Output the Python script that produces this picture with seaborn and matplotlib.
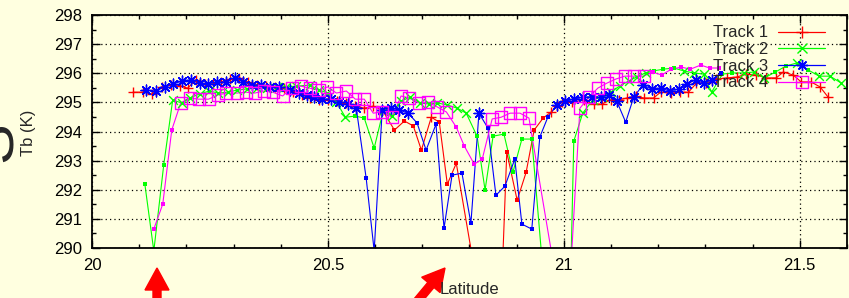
import pandas as pd
import matplotlib
matplotlib.use("Agg")
import matplotlib.pyplot as plt
from matplotlib.lines import Line2D
from matplotlib.patches import FancyArrow
from matplotlib.ticker import MultipleLocator
import seaborn as sns

# brightness temperature along four tracks (big marker flag: 1 = big, 0 = small dot)
t1_lat = [20.087, 20.108, 20.127, 20.148, 20.167, 20.186, 20.203, 20.220, 20.239, 20.256,
          20.273, 20.292, 20.311, 20.330, 20.349, 20.368, 20.387, 20.406, 20.425, 20.444,
          20.463, 20.482, 20.501, 20.520, 20.539, 20.558, 20.577, 20.596, 20.615, 20.641,
          20.662, 20.681, 20.698, 20.719, 20.736, 20.753, 20.772, 20.808, 20.840, 20.869,
          20.879, 20.901, 20.920, 20.937, 20.956, 20.973, 20.985, 20.996, 21.017, 21.042,
          21.063, 21.080, 21.099, 21.116, 21.133, 21.152, 21.169, 21.190, 21.205, 21.228,
          21.247, 21.264, 21.281, 21.302, 21.323, 21.345, 21.366, 21.387, 21.408, 21.429,
          21.450, 21.465, 21.486, 21.503, 21.524, 21.543, 21.560]
t1_tb = [295.35, 295.35, 295.29, 295.53, 295.59, 295.56, 295.49, 295.77, 295.63, 295.63,
         295.70, 295.80, 295.84, 295.70, 295.59, 295.56, 295.53, 295.49, 295.35, 295.25,
         295.15, 295.08, 295.08, 295.04, 294.98, 294.87, 294.80, 294.87, 294.74, 294.05,
         294.36, 294.19, 293.36, 294.49, 294.32, 292.19, 292.91, 289.5, 288.8, 289.0,
         293.29, 291.64, 292.60, 294.05, 294.46, 294.67, 294.87, 295.01, 295.01, 295.08,
         294.94, 294.94, 295.08, 295.08, 295.15, 295.22, 295.15, 295.15, 295.35, 295.32,
         295.35, 295.35, 295.66, 295.66, 295.80, 295.84, 295.87, 295.97, 295.94, 295.84,
         295.84, 296.04, 295.94, 295.70, 295.70, 295.53, 295.18]
t1_big = ("1111111111" "1111111111" "111111111" "0000" "1" "00000000000"
          "1111111111" "1111111111" "1111111111" "11")

t2_lat = [20.112, 20.131, 20.152, 20.171, 20.190, 20.207, 20.228, 20.249, 20.268, 20.288,
          20.307, 20.328, 20.349, 20.370, 20.391, 20.412, 20.433, 20.461, 20.482, 20.499,
          20.518, 20.537, 20.558, 20.577, 20.598, 20.617, 20.636, 20.655, 20.674, 20.696,
          20.715, 20.732, 20.753, 20.774, 20.793, 20.816, 20.833, 20.850, 20.873, 20.892,
          20.911, 20.932, 20.962, 21.013, 21.021, 21.040, 21.061, 21.080, 21.099, 21.118,
          21.137, 21.154, 21.173, 21.190, 21.211, 21.233, 21.254, 21.275, 21.296, 21.313,
          21.336, 21.357, 21.381, 21.402, 21.425, 21.448, 21.471, 21.493, 21.518, 21.541,
          21.564, 21.588]
t2_tb = [292.19, 289.9, 292.85, 295.08, 294.98, 295.15, 295.29, 295.39, 295.32, 295.35,
         295.42, 295.46, 295.49, 295.49, 295.53, 295.53, 295.56, 295.59, 295.42, 295.32,
         295.01, 294.49, 294.53, 294.46, 293.43, 294.70, 294.53, 295.04, 295.18, 294.98,
         294.94, 294.98, 294.91, 294.80, 294.63, 293.84, 291.99, 293.84, 293.91, 292.60,
         293.74, 293.74, 288.0, 288.0, 293.67, 294.63, 295.08, 295.18, 295.35, 295.56,
         295.73, 295.87, 296.01, 296.08, 296.14, 296.18, 296.08, 296.01, 295.97, 295.35,
         295.97, 296.01, 296.01, 296.04, 295.84, 296.04, 296.25, 296.35, 296.11, 295.90,
         295.90, 295.66]
t2_big = ("000" "1111111111" "111111111" "000" "1111111111" "0000000000"
          "11111111" "000" "1111" "00" "111" "00" "1" "0" "111")

t3_lat = [20.114, 20.135, 20.154, 20.171, 20.190, 20.209, 20.228, 20.245, 20.264, 20.283,
          20.302, 20.321, 20.340, 20.359, 20.378, 20.397, 20.419, 20.438, 20.455, 20.471,
          20.488, 20.507, 20.524, 20.543, 20.560, 20.581, 20.598, 20.615, 20.634, 20.651,
          20.670, 20.689, 20.708, 20.729, 20.746, 20.763, 20.784, 20.803, 20.820, 20.839,
          20.856, 20.875, 20.896, 20.911, 20.932, 20.949, 20.966, 20.985, 21.002, 21.021,
          21.040, 21.059, 21.078, 21.095, 21.112, 21.131, 21.148, 21.167, 21.186, 21.205,
          21.224, 21.243, 21.260, 21.279, 21.296, 21.313, 21.332]
t3_tb = [295.42, 295.39, 295.53, 295.63, 295.73, 295.77, 295.66, 295.63, 295.70, 295.70,
         295.84, 295.70, 295.59, 295.59, 295.53, 295.53, 295.42, 295.32, 295.25, 295.18,
         295.11, 295.11, 295.01, 294.94, 294.80, 292.40, 289.9, 294.74, 294.80, 294.74,
         294.63, 294.29, 293.36, 294.25, 290.68, 292.50, 292.57, 290.85, 294.63, 294.12,
         291.81, 292.12, 293.05, 290.82, 290.65, 293.81, 294.49, 294.91, 295.04, 295.11,
         295.18, 295.18, 295.18, 295.25, 295.04, 294.32, 295.18, 295.59, 295.46, 295.49,
         295.39, 295.46, 295.63, 295.77, 295.66, 295.77, 296.01]
t3_big = ("1111111111" "1111111111" "11111" "00" "1111" "0000000" "1" "00000000"
          "11111111" "0" "1111111111" "0")

t4_lat = [20.131, 20.150, 20.169, 20.188, 20.207, 20.226, 20.247, 20.266, 20.285, 20.307,
          20.326, 20.345, 20.364, 20.383, 20.404, 20.423, 20.442, 20.461, 20.480, 20.499,
          20.518, 20.539, 20.558, 20.577, 20.596, 20.615, 20.636, 20.655, 20.672, 20.693,
          20.712, 20.732, 20.751, 20.772, 20.789, 20.810, 20.827, 20.848, 20.867, 20.886,
          20.907, 20.926, 20.981, 21.015, 21.034, 21.053, 21.072, 21.091, 21.110, 21.129,
          21.148, 21.169, 21.188, 21.207, 21.228, 21.249, 21.268, 21.290, 21.309, 21.328]
t4_tb = [290.65, 291.51, 294.05, 294.98, 295.15, 295.11, 295.11, 295.25, 295.32, 295.32,
         295.35, 295.32, 295.39, 295.35, 295.22, 295.49, 295.56, 295.49, 295.42, 295.53,
         295.32, 295.39, 295.11, 295.11, 294.63, 294.67, 294.49, 295.22, 295.15, 294.98,
         295.01, 294.84, 294.67, 294.15, 293.50, 292.88, 293.05, 294.43, 294.49, 294.63,
         294.63, 294.46, 289.15, 289.4, 294.80, 295.18, 295.49, 295.66, 295.80, 295.90,
         295.90, 295.90, 296.04, 295.94, 296.14, 296.21, 296.14, 296.28, 296.18, 296.18]
t4_big = ("000" "1111111111" "1111111111" "1111111111" "0000" "11111" "00"
          "11111111" "00000000")

tracks = ["Track 1", "Track 2", "Track 3", "Track 4"]
colors = ["#ff0000", "#00ff00", "#0000ff", "#ff00ff"]
x_ticks = [20, 20.5, 21, 21.5]
y_ticks = [290, 291, 292, 293, 294, 295, 296, 297, 298]

series = [(t1_lat, t1_tb, t1_big), (t2_lat, t2_tb, t2_big),
          (t3_lat, t3_tb, t3_big), (t4_lat, t4_tb, t4_big)]
frames = []
for name, (lat, tb, big) in zip(tracks, series):
    assert len(lat) == len(tb) == len(big), name
    frames.append(pd.DataFrame({"lat": lat, "tb": tb, "big": [c == "1" for c in big],
                                "track": name}))
df = pd.concat(frames, ignore_index=True)

bg = "#ffffe0"
sns.set_style("ticks")
plt.rcParams["font.family"] = ["Liberation Sans", "DejaVu Sans"]

fig = plt.figure(figsize=(8.49, 2.98), dpi=100, facecolor=bg)
ax = fig.add_axes([92 / 849, 1 - 248 / 298, 755 / 849, 233 / 298])
ax.set_facecolor(bg)

palette = dict(zip(tracks, colors))
sns.lineplot(data=df, x="lat", y="tb", hue="track", palette=palette, sort=False,
             estimator=None, linewidth=0.8, legend=False, ax=ax)

big_style = {
    "Track 1": dict(marker="+", s=60, linewidth=1.0),
    "Track 2": dict(marker="x", s=40, linewidth=1.0),
    "Track 3": dict(marker=(8, 2, 0), s=60, linewidth=1.0),
    "Track 4": dict(marker="s", s=75, linewidth=1.0, facecolor="none"),
}
for name in tracks:
    c = palette[name]
    sub = df[df["track"] == name]
    small = sub[~sub["big"]]
    large = sub[sub["big"]]
    sns.scatterplot(x=small["lat"], y=small["tb"], marker="s", s=5, color=c,
                    edgecolor=c, linewidth=0, ax=ax, zorder=3)
    sns.scatterplot(x=large["lat"], y=large["tb"], color=c, edgecolor=c, ax=ax,
                    zorder=3, **big_style[name])

ax.set_xlim(20, 21.6)
ax.set_ylim(290, 298)
ax.set_xticks(x_ticks)
ax.set_xticklabels(["20", "20.5", "21", "21.5"])
ax.set_yticks(y_ticks)
ax.xaxis.set_minor_locator(MultipleLocator(0.1))
ax.yaxis.set_minor_locator(MultipleLocator(0.5))
ax.tick_params(which="both", direction="in", top=True, right=True, colors="black",
               labelsize=12, pad=7)
ax.tick_params(which="major", length=6, width=1)
ax.tick_params(which="minor", length=3, width=1)
for sp in ax.spines.values():
    sp.set_color("black")
    sp.set_linewidth(1.3)
ax.grid(which="major", linestyle=(0, (1, 2.5)), color="black", linewidth=0.9)
ax.set_xlabel("")
ax.set_ylabel("")

handles = [
    Line2D([], [], color=colors[0], lw=0.9, marker="+", ms=8, mew=1.0),
    Line2D([], [], color=colors[1], lw=0.9, marker="x", ms=6.5, mew=1.0),
    Line2D([], [], color=colors[2], lw=0.9, marker=(8, 2, 0), ms=8, mew=1.0),
    Line2D([], [], color=colors[3], lw=0.9, marker="s", ms=8.5, mew=1.0, mfc="none"),
]
ax.legend(handles, tracks, loc="upper right", bbox_to_anchor=(0.971, 0.955),
          frameon=False, markerfirst=False, fontsize=12, handlelength=2.8,
          handletextpad=0.6, labelspacing=0.1, borderpad=0, borderaxespad=0)

# axis titles, partly cut off at the image border
fig.text(25 / 849, 1 - 142 / 298, "S", rotation=90, fontsize=44, ha="right",
         va="center")
fig.text(28 / 849, 1 - 133 / 298, "Tb (K)", rotation=90, fontsize=12, ha="center",
         va="center")
fig.text(469 / 849, 1 - 290 / 298, "Latitude", fontsize=12, ha="center", va="center")

# red arrows below the axis
fig.add_artist(FancyArrow(1.57, -0.12, 0, 0.42, width=0.08, head_width=0.24,
                          head_length=0.22, length_includes_head=True, color="red",
                          transform=fig.dpi_scale_trans))
fig.add_artist(FancyArrow(4.10, -0.12, 0.35, 0.42, width=0.08, head_width=0.24,
                          head_length=0.22, length_includes_head=True, color="red",
                          transform=fig.dpi_scale_trans))

fig.savefig("out.png", dpi=100, facecolor=bg)
